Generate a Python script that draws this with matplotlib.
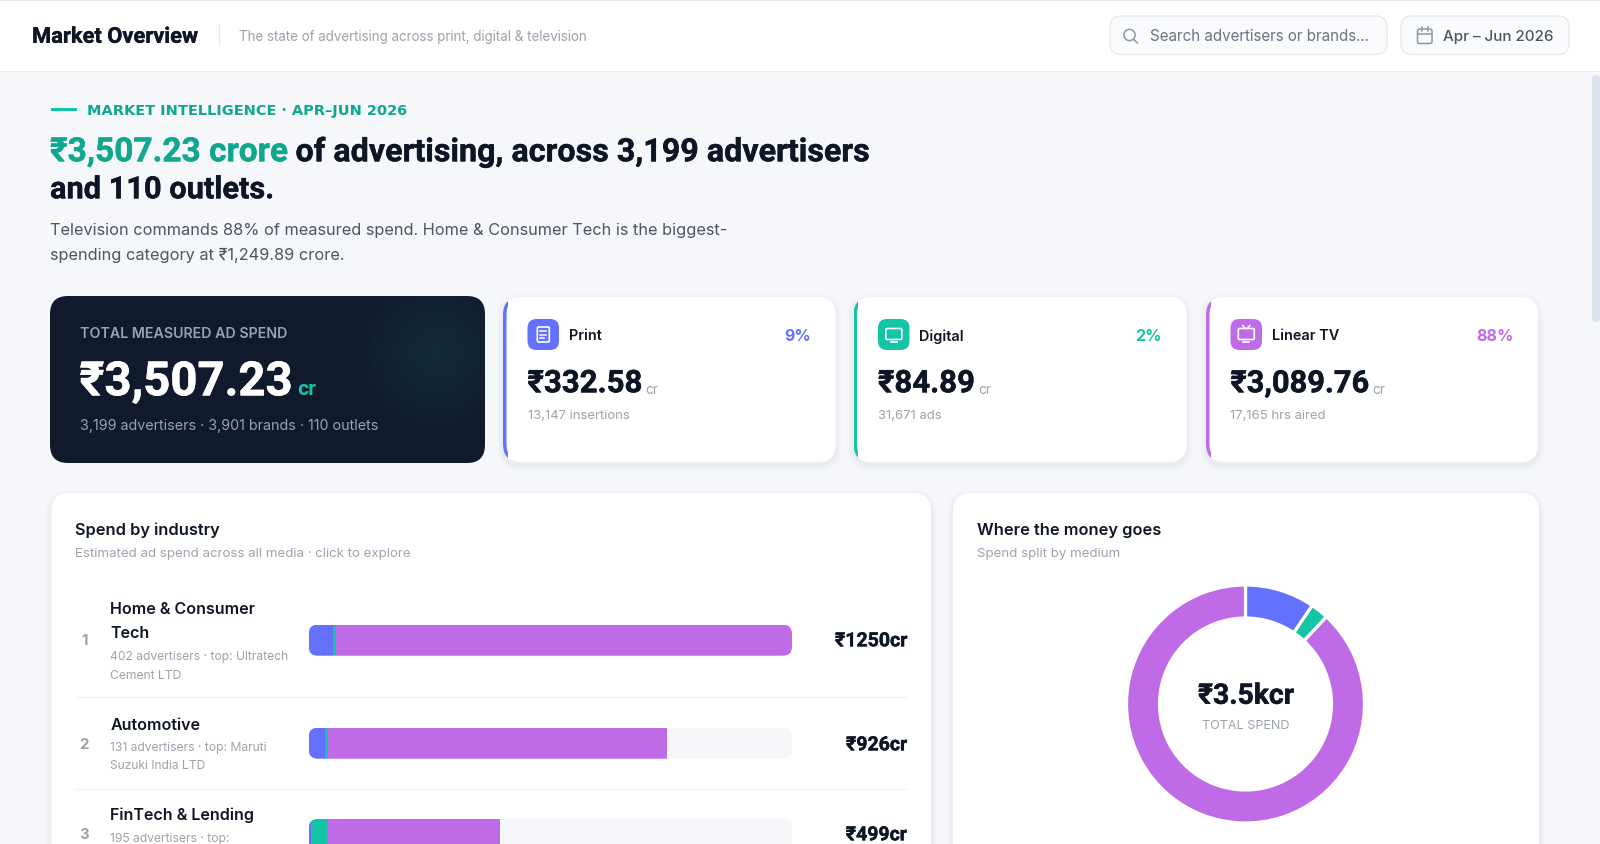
import numpy as np
import matplotlib
matplotlib.use("Agg")
import matplotlib.pyplot as plt
import matplotlib.patheffects as pe
from matplotlib.patches import FancyBboxPatch, Rectangle, Circle

# ---------- data ----------
media = ["Print", "Digital", "Linear TV"]
media_spend = [332.58, 84.89, 3089.76]
media_share = ["9%", "2%", "88%"]
media_value = ["₹332.58", "₹84.89", "₹3,089.76"]
media_sub = ["13,147 insertions", "31,671 ads", "17,165 hrs aired"]
media_colors = ["#6471FF", "#14C4A6", "#BF6AE6"]

industries = ["Home & Consumer\nTech", "Automotive", "FinTech & Lending"]
industry_subs = ["402 advertisers · top: Ultratech\nCement LTD",
                 "131 advertisers · top: Maruti\nSuzuki India LTD",
                 "195 advertisers · top:"]
industry_labels = ["₹1250cr", "₹926cr", "₹499cr"]
print_spend = [62, 41, 7]
digital_spend = [9, 9, 41]
tv_spend = [1179, 876, 448]

INK = "#0E1525"
GREY = "#9CA3AF"
BG = "#F5F7FB"
FONT = "Inter"
TIGHT = "Roboto"

fig = plt.figure(figsize=(16, 8.44), dpi=100, facecolor=BG)
ax = fig.add_axes([0, 0, 1, 1])
ax.set_xlim(0, 1600)
ax.set_ylim(844, 0)
ax.axis("off")
renderer = fig.canvas.get_renderer()


def T(x, y, s, px, color=INK, weight="normal", ha="left", w=None, zorder=10, font=FONT, stroke=0):
    t = ax.text(x, y + 2.8, s, fontsize=px * 0.72, color=color, fontweight=weight,
                ha=ha, va="center", family=[font, FONT, "DejaVu Sans"], zorder=zorder)
    if w is not None:
        bw = t.get_window_extent(renderer).width
        t.set_fontsize(t.get_fontsize() * w / bw)
    if stroke:
        t.set_path_effects([pe.withStroke(linewidth=stroke, foreground=color)])
    return t


def box(x0, y0, x1, y1, r, fc, ec="none", lw=0, zorder=2, alpha=None):
    p = FancyBboxPatch((x0 + r, y0 + r), x1 - x0 - 2 * r, y1 - y0 - 2 * r,
                       boxstyle=f"round,pad={r},rounding_size={r}", fc=fc, ec=ec, lw=lw,
                       zorder=zorder, alpha=alpha)
    ax.add_patch(p)
    return p


def shadow(x0, y0, x1, y1, r):
    for d, a in ((6, .012), (4, .016), (2, .02)):
        box(x0 - d, y0 - d + 3, x1 + d, y1 + d + 3, r + d, "#1E293B", zorder=1, alpha=a)


# ---------- header ----------
ax.add_patch(Rectangle((0, 0), 1600, 71, fc="white", ec="none", zorder=1))
ax.add_patch(Rectangle((0, 0), 1600, 1.2, fc="#E2E4E8", ec="none", zorder=2))
ax.add_patch(Rectangle((0, 70.5), 1600, 1, fc="#E9ECF1", ec="none", zorder=2))
T(32, 34, "Market Overview", 22, weight="bold", w=166, font=TIGHT, stroke=.25)
ax.plot([218.5, 218.5], [25, 45], color="#E5E7EB", lw=.8, zorder=3)
T(239, 34, "The state of advertising across print, digital & television", 13, GREY, w=349)

box(1110, 16, 1387, 54.5, 11, "#FAFBFD", "#E5E7EB", .9, zorder=3)
ax.add_patch(Circle((1129.5, 35), 5.6, fc="none", ec="#8E97A6", lw=1.1, zorder=4))
ax.plot([1133.5, 1137.5], [39.3, 43], color="#8E97A6", lw=1.1, zorder=4)
T(1150, 34, "Search advertisers or brands...", 15, "#6B7280", w=220)

box(1401, 16, 1569, 54.5, 11, "#FAFBFD", "#E5E7EB", .9, zorder=3)
box(1417.5, 29, 1432, 43.5, 2, "none", "#8E97A6", 1.1, zorder=4)
ax.plot([1417.5, 1432], [33.8, 33.8], color="#8E97A6", lw=1.1, zorder=4)
ax.plot([1421.5, 1421.5], [27, 30.5], color="#8E97A6", lw=1.1, zorder=4)
ax.plot([1428, 1428], [27, 30.5], color="#8E97A6", lw=1.1, zorder=4)
T(1443, 34, "Apr – Jun 2026", 15, "#4B5563", weight="medium", w=111)

# scrollbar
box(1592, 75, 1600, 322, 4, "#DCE3EC", zorder=3)

# ---------- hero text ----------
ax.add_patch(Rectangle((50.5, 108.3), 26, 3.2, fc="#14C4A6", ec="none", zorder=3))
T(87, 108, "MARKET INTELLIGENCE · APR–JUN 2026", 12, "#0FA88E", weight="bold", w=319, font="DejaVu Sans")
T(50, 149.5, "₹3,507.23 crore", 34, "#0FA88E", weight="bold", w=238, font=TIGHT, stroke=.3)
T(295.5, 149.5, "of advertising, across 3,199 advertisers", 34, INK, weight="bold", w=574, font=TIGHT, stroke=.3)
T(50, 186.5, "and 110 outlets.", 34, INK, weight="bold", w=224, font=TIGHT, stroke=.3)
T(50, 227.5, "Television commands 88% of measured spend. Home & Consumer Tech is the biggest-", 17,
  "#4B5563", w=675)
T(50, 252.5, "spending category at ₹1,249.89 crore.", 17, "#4B5563", w=293)

# ---------- dark card ----------
dark = box(50, 296, 485, 463, 18, "#111A2D", zorder=3)
yy, xx = np.mgrid[296:463:200j, 50:485:500j]
dist = np.hypot(xx - 437, yy - 352) / 85
rgba = np.zeros(dist.shape + (4,))
rgba[..., :3] = matplotlib.colors.to_rgb("#14C4A6")
rgba[..., 3] = .10 * np.clip(1 - dist, 0, 1) ** .8
glow = ax.imshow(rgba, extent=(50, 485, 463, 296), aspect="auto", zorder=4, interpolation="bilinear")
glow.set_clip_path(dark)
ax.set_xlim(0, 1600)
ax.set_ylim(844, 0)
T(79.5, 331, "TOTAL MEASURED AD SPEND", 13, "#94A3B8", weight="semibold", w=208)
T(79.5, 379.5, "₹3,507.23", 46, "white", weight="bold", w=213, font=TIGHT, stroke=.4)
T(297, 387, "cr", 20, "#14C4A6", weight="bold", w=19, font=TIGHT)
T(79.5, 423.5, "3,199 advertisers · 3,901 brands · 110 outlets", 14, "#94A3B8", w=301)

# ---------- medium cards ----------
card_x = [(503, 835.5), (853.5, 1186.5), (1206, 1538)]
value_w = [115, 97, 139]
for i, (x0, x1) in enumerate(card_x):
    c = media_colors[i]
    shadow(x0, 297, x1, 462, 18)
    box(x0, 297, x1, 462, 18, "white", zorder=3)
    strip = box(x0, 297, x1, 462, 18, c, zorder=3)
    strip.set_clip_path(Rectangle((x0, 297), 4.5, 165, transform=ax.transData))
    box(x0 + 3.5, 297, x1, 462, 18, "white", zorder=3)
    ix = x0 + 24.5
    box(ix, 319, ix + 31.5, 350, 9, c, zorder=4)
    cx, cy = ix + 15.8, 334.5
    if i == 0:
        box(cx - 6, cy - 7.5, cx + 6, cy + 7.5, 1.5, "none", "white", 1.2, zorder=5)
        for dy, hw in ((-3.5, 3.2), (0, 3.2), (3.5, 1.8)):
            ax.plot([cx - 3.2, cx - 3.2 + 2 * hw], [cy + dy, cy + dy], color="white", lw=1.1, zorder=5)
    else:
        if i == 2:
            ax.plot([cx - 3.5, cx - 1, cx + 1, cx + 3.5], [cy - 9, cy - 6, cy - 6, cy - 9], color="white", lw=1.1, zorder=5)
        box(cx - 8, cy - 6, cx + 8, cy + 5, 1.5, "none", "white", 1.2, zorder=5)
        ax.plot([cx - 3, cx + 3], [cy + 7.5, cy + 7.5], color="white", lw=1.2, zorder=5)
    T(ix + 41, 333.5, media[i], 14.5, INK, weight="semibold")
    T(x1 - 24.5, 333.5, media_share[i], 16, c, weight="bold", ha="right")
    T(ix, 380.5, media_value[i], 32, INK, weight="bold", w=value_w[i], font=TIGHT, stroke=.35)
    T(ix + value_w[i] + 3, 387.5, "cr", 14, GREY, w=13)
    T(ix, 413, media_sub[i], 13.1, GREY)

# ---------- lower cards ----------
shadow(51.5, 493, 931, 900, 18)
box(51.5, 493, 931, 900, 18, "white", zorder=3)
shadow(953, 493, 1539, 900, 18)
box(953, 493, 1539, 900, 18, "white", zorder=3)
T(75, 527.5, "Spend by industry", 16.5, INK, weight="semibold", w=145)
T(75, 551.5, "Estimated ad spend across all media · click to explore", 13, GREY, w=337)
T(977, 527.5, "Where the money goes", 16.5, INK, weight="semibold", w=183.5)
T(977, 551.5, "Spend split by medium", 13, GREY, w=143)

# industry rows
track_x0, track_x1 = 308.7, 792
bar_ax = fig.add_axes([track_x0 / 1600, 0, (track_x1 - track_x0) / 1600, 1], zorder=2)
bar_ax.set_xlim(0, 1250)
bar_ax.set_ylim(844, 0)
bar_ax.axis("off")
bar_y = [640.2, 743.2, 834.5]
rank_y = [638.5, 742.5, 832.5]
name_y = [[607, 630.5], [722.5], [812.5]]
sub_y = [[654.5, 673], [745, 763.5], [836]]
for i, name in enumerate(industries):
    T(84.5, rank_y[i], str(i + 1), 15, GREY, weight="bold", ha="center")
    for y, line in zip(name_y[i], name.split("\n")):
        T(110.5, y, line, 16, INK, weight="semibold")
    for y, line in zip(sub_y[i], industry_subs[i].split("\n")):
        T(110.5, y, line, 12.1, GREY)
    T(907, rank_y[i], industry_labels[i], 19.5, INK, weight="bold", ha="right", font=TIGHT, stroke=.3)
    track = box(track_x0, bar_y[i] - 15.5, track_x1, bar_y[i] + 15.5, 9, "#F5F7FB", zorder=3)
    left = 0
    for vals, c in zip((print_spend, digital_spend, tv_spend), media_colors):
        b = bar_ax.barh(bar_y[i], vals[i], left=left, height=31, color=c, lw=0)
        b[0].set_clip_path(track)
        left += vals[i]
for y in (697, 789):
    ax.plot([76, 906], [y, y], color="#F1F3F6", lw=.9, zorder=4)

# donut
R = 119
pie_ax = fig.add_axes([(1245.5 - R) / 1600, 1 - (704 + R) / 844, 2 * R / 1600, 2 * R / 844], zorder=3)
pie_ax.pie(media_spend, colors=media_colors, startangle=90, counterclock=False, radius=1,
           wedgeprops=dict(width=33 / R, edgecolor="white", linewidth=2.3))
pie_ax.set_xlim(-1, 1)
pie_ax.set_ylim(-1, 1)
T(1246, 693.5, "₹3.5kcr", 30, INK, weight="bold", ha="center", w=96, font=TIGHT, stroke=.35)
T(1246, 723.5, "TOTAL SPEND", 12.5, GREY, ha="center", w=88)

fig.savefig("out.png", dpi=100, facecolor=BG)
